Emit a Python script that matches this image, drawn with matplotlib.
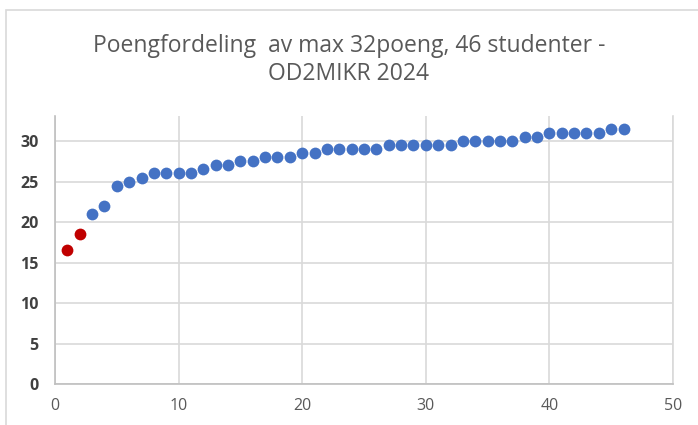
import matplotlib
matplotlib.use("Agg")
import matplotlib.pyplot as plt
from matplotlib.patches import Rectangle

plt.rcParams['font.family'] = ['Open Sans', 'DejaVu Sans']

student = [1, 2, 3, 4, 5, 6, 7, 8, 9, 10, 11, 12, 13, 14, 15, 16, 17, 18, 19, 20, 21, 22, 23,
           24, 25, 26, 27, 28, 29, 30, 31, 32, 33, 34, 35, 36, 37, 38, 39, 40, 41, 42, 43, 44, 45, 46]
poeng = [16.5, 18.5, 21, 22, 24.5, 25, 25.5, 26, 26, 26, 26, 26.5, 27, 27, 27.5, 27.5, 28, 28, 28,
         28.5, 28.5, 29, 29, 29, 29, 29, 29.5, 29.5, 29.5, 29.5, 29.5, 29.5, 30, 30, 30, 30, 30,
         30.5, 30.5, 31, 31, 31, 31, 31, 31.5, 31.5]
n_red = 2  # de to laveste markert i rødt

title = "Poengfordeling  av max 32poeng, 46 studenter -\nOD2MIKR 2024"

W, H = 698, 425
fig = plt.figure(figsize=(W / 100, H / 100), dpi=100)
ax = fig.add_axes([55 / W, 1 - 384 / H, (673 - 55) / W, (384 - 116) / H])

# ramme rundt diagrammet
fig.patches.append(Rectangle((6 / W, -0.1), 1.2, 1 - 10 / H + 0.1, transform=fig.transFigure,
                             fill=False, edgecolor='#d9d9d9', linewidth=1.2))

ax.scatter(student[n_red:], poeng[n_red:], s=72, color='#4472c4', zorder=3, linewidths=0)
ax.scatter(student[:n_red], poeng[:n_red], s=72, color='#c00000', zorder=3, linewidths=0)

ax.set_xlim(0, 50)
ax.set_ylim(0, 33.1)
ax.set_xticks([0, 10, 20, 30, 40, 50])
ax.set_yticks([0, 5, 10, 15, 20, 25, 30])
ax.grid(True, color='#d9d9d9', linewidth=1.2)
ax.set_axisbelow(True)
ax.spines['top'].set_visible(False)
for s in ['left', 'bottom']:
    ax.spines[s].set_color('#bfbfbf')
    ax.spines[s].set_linewidth(1.2)
ax.spines['right'].set_color('#d9d9d9')
ax.spines['right'].set_linewidth(1.2)
ax.tick_params(length=0)
ax.tick_params(axis='x', labelsize=11.5, labelcolor='#595959', pad=10)
ax.tick_params(axis='y', labelsize=11.5, labelcolor='#404040', pad=12)
for lab in ax.get_yticklabels():
    lab.set_fontweight('bold')

fig.text(0.5, 1 - 60 / H, title, ha='center', va='center', fontsize=16.5,
         color='#595959', linespacing=1.2)

fig.savefig("out.png", dpi=100)
